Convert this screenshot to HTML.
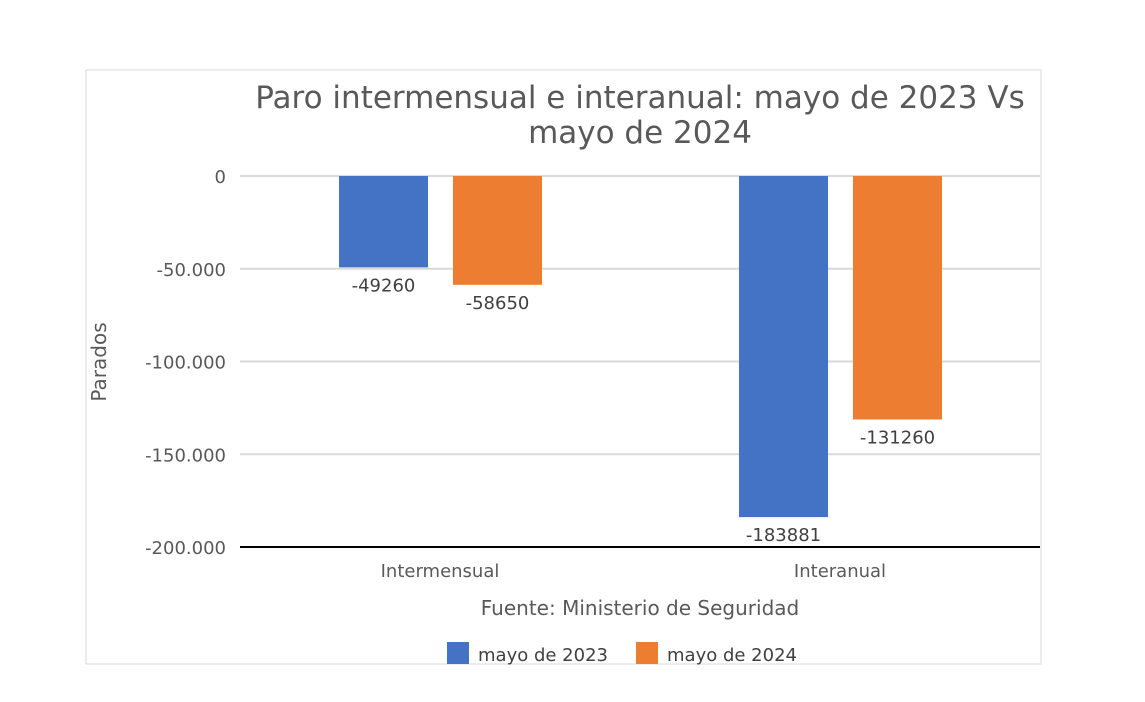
<!DOCTYPE html>
<html><head><meta charset="utf-8"><style>
body{margin:0;background:#fff;width:1145px;height:698px;overflow:hidden;font-family:"DejaVu Sans","Liberation Sans",sans-serif;}
</style></head><body>
<svg width="1145" height="698">
<rect x="86" y="70" width="955" height="594" fill="#fff" stroke="#d9d9d9"/>
<text x="640" y="108" font-size="31" fill="#595959" text-anchor="middle">Paro intermensual e interanual: mayo de 2023 Vs</text>
<text x="640" y="143" font-size="31" fill="#595959" text-anchor="middle">mayo de 2024</text>
<text transform="translate(106,362) rotate(-90)" font-size="20" fill="#595959" text-anchor="middle">Parados</text>
<text x="640" y="615" font-size="20" fill="#595959" text-anchor="middle">Fuente: Ministerio de Seguridad</text>
<g id="plot"></g>
<g>
<rect x="447" y="642" width="22" height="22" fill="#4472c4"/>
<text x="478" y="661" font-size="18" fill="#404040">mayo de 2023</text>
<rect x="636" y="642" width="22" height="22" fill="#ed7d31"/>
<text x="667" y="661" font-size="18" fill="#404040">mayo de 2024</text>
</g>
</svg>
<script>
const categories=["Intermensual","Interanual"];
const series2023=[-49260,-183881];
const series2024=[-58650,-131260];
const ticks=[0,-50000,-100000,-150000,-200000];
const tickLabels=["0","-50.000","-100.000","-150.000","-200.000"];
const NS="http://www.w3.org/2000/svg";
const g=document.getElementById("plot");
const y=v=>176+(-v)*371/200000;
const cx=i=>440+i*400;
function mk(t,a){const e=document.createElementNS(NS,t);for(const k in a)e.setAttribute(k,a[k]);g.appendChild(e);return e;}
ticks.forEach((t,i)=>{
 const l=mk("line",{x1:240,x2:1040,y1:y(t),y2:y(t),stroke:i==4?"#000":"#d9d9d9","stroke-width":2});
 
 
 const tx=mk("text",{x:226,y:y(t)+7,"font-size":18,fill:"#595959","text-anchor":"end"});tx.textContent=tickLabels[i];
 
 
});
categories.forEach((c,i)=>{
 const tx=mk("text",{x:cx(i),y:577,"font-size":18,fill:"#595959","text-anchor":"middle"});tx.textContent=c;
 
 
 [[series2023,"#4472c4",-101],[series2024,"#ed7d31",13]].forEach(([s,col,off])=>{
  const v=s[i];
  const r=mk("rect",{x:cx(i)+off,y:y(0),width:89,height:y(v)-y(0),fill:col});
  
  
  const lb=mk("text",{x:cx(i)+off+44.5,y:y(v)+24,"font-size":18,fill:"#404040","text-anchor":"middle"});lb.textContent=String(v);
  
  
 });
});
</script>
</body></html>
